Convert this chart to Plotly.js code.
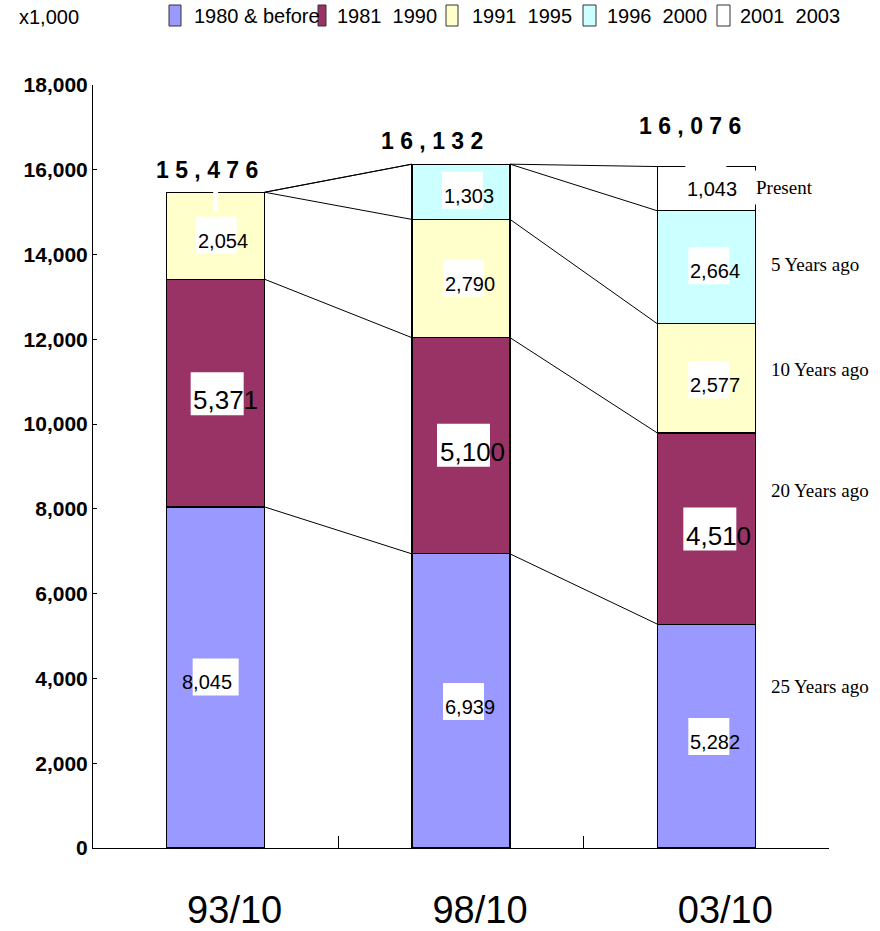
<!DOCTYPE html>
<html><head><meta charset="utf-8">
<script src="https://cdn.plot.ly/plotly-3.0.1.min.js"></script>
<style>html,body{margin:0;padding:0;background:#fff}</style>
</head><body><div id="chart" style="width:880px;height:931px"></div>
<script>
// ---------- data ----------
const categories = ['93/10', '98/10', '03/10'];
const seriesNames = ['1980 & before', '1981\u00a0 1990', '1991\u00a0 1995', '1996\u00a0 2000', '2001\u00a0 2003'];
const v1980 = [8045, 6939, 5282];
const v1981 = [5371, 5100, 4510];
const v1991 = [2054, 2790, 2577];
const v1996 = [null, 1303, 2664];
const v2001 = [null, null, 1043];
const totals = [15476, 16132, 16076];
const ageLabels = ['Present', '5 Years ago', '10 Years ago', '20 Years ago', '25 Years ago'];
const unitLabel = 'x1,000';
const yMax = 18000, yStep = 2000;

// ---------- styles / positions ----------
const seriesColors = ['#9999FF', '#993366', '#FFFFCC', '#CCFFFF', '#FFFFFF'];
const bigLabelSeries = [false, true, false, false, false];
const W = 880, H = 931, M = {l: 93, r: 51, t: 85, b: 83};
const PW = W - M.l - M.r, PH = H - M.t - M.b;
const px2x = px => (px - M.l) / PW;
const px2y = py => (H - M.b - py) / PH;
const barWidth = 0.4;
const SANS = 'Liberation Sans, Arial, sans-serif';
// label pixel offsets [dx, dyDown] per series x category
const labelOffsets = [
  [[-9, 5], [9, 6], [9, 6]],
  [[10, 7], [11, 6], [12, 7]],
  [[7, 5], [9, 5], [9, 7]],
  [[0, 0], [8, 4], [9, 4]],
  [[0, 0], [0, 0], [6, 0]]
];
const totalOffsets = [[-9, 22], [-29, 23], [-16, 41]];
const legendSquares = [[169, 181], [318, 326], [446, 458], [583, 596], [717, 730]];
const legendTextX = [192, 335, 470, 605, 738];
const agePos = [[749, 187], [769, 264], [769, 369], [769, 490], [769, 686]];

const series = [v1980, v1981, v1991, v1996, v2001];
const fmt = v => v.toLocaleString('en-US');

const traces = series.map((vals, s) => ({
  type: 'bar', x: categories, y: vals, name: seriesNames[s], width: barWidth,
  marker: {color: seriesColors[s], line: {color: '#000', width: 1.2}},
  showlegend: false, hoverinfo: 'skip'
}));

// cumulative levels
const cum = categories.map((c, i) => {
  let acc = 0; return series.map(vals => (acc += (vals[i] || 0)));
});

const shapes = [];
const annotations = [];

// connecting lines between bars
for (let i = 0; i < categories.length - 1; i++) {
  for (let k = 0; k < series.length; k++) {
    shapes.push({type: 'line', xref: 'x', yref: 'y', layer: 'above',
      x0: i + barWidth / 2, x1: i + 1 - barWidth / 2, y0: cum[i][k], y1: cum[i + 1][k],
      line: {color: '#000', width: 1}});
  }
}

// segment labels with white boxes
series.forEach((vals, s) => {
  vals.forEach((v, i) => {
    if (v == null) return;
    const mid = (s === 0 ? 0 : cum[i][s - 1]) + v / 2;
    const [dx, dy] = labelOffsets[s][i];
    const big = bigLabelSeries[s];
    let bx = big ? [-35, 18] : [-27, 14];
    if (s === 0 && i === 0) bx = [-14, 32];
    const by = big ? [-28, 15] : [-24, 13];
    shapes.push({type: 'rect', xref: 'x', yref: 'y', layer: 'above',
      xsizemode: 'pixel', ysizemode: 'pixel', xanchor: i, yanchor: mid,
      x0: dx + bx[0], x1: dx + bx[1], y0: -(dy + by[1]), y1: -(dy + by[0]),
      fillcolor: '#fff', line: {width: 0}});
    annotations.push({x: i, y: mid, xref: 'x', yref: 'y', text: fmt(v), showarrow: false,
      xshift: dx, yshift: -dy,
      font: {family: SANS, size: big ? 26 : 20, color: '#000'}});
  });
});

// white notch at top of first bar
shapes.push({type: 'line', xref: 'x', yref: 'y', layer: 'above', xsizemode: 'pixel', ysizemode: 'pixel',
  xanchor: 0, yanchor: cum[0][series.length - 1], x0: 0, x1: 0, y0: -19, y1: 2,
  line: {color: '#fff', width: 5}});

// totals
totals.forEach((t, i) => {
  annotations.push({x: i, y: t, xref: 'x', yref: 'y', showarrow: false,
    text: fmt(t).split('').join(' '), xshift: totalOffsets[i][0], yshift: totalOffsets[i][1],
    font: {family: SANS, size: 23, weight: 'bold', color: '#000'}});
});

// right-side age labels
ageLabels.forEach((t, j) => {
  annotations.push({xref: 'paper', yref: 'paper', x: px2x(agePos[j][0]), y: px2y(agePos[j][1]),
    xanchor: 'left', yanchor: 'middle', text: t, showarrow: false,
    bgcolor: j === 0 ? '#fff' : 'rgba(0,0,0,0)', borderpad: j === 0 ? 6 : 1,
    font: {family: 'Liberation Serif, Times New Roman, serif', size: 19, color: '#000'}});
});

// manual legend
seriesNames.forEach((n, s) => {
  shapes.push({type: 'rect', xref: 'paper', yref: 'paper', layer: 'above',
    x0: px2x(legendSquares[s][0]), x1: px2x(legendSquares[s][1]), y0: px2y(26), y1: px2y(5),
    fillcolor: seriesColors[s], line: {color: '#333', width: 1}});
  annotations.push({xref: 'paper', yref: 'paper', x: px2x(legendTextX[s]), y: px2y(16),
    xanchor: 'left', yanchor: 'middle', text: n, showarrow: false,
    font: {family: SANS, size: 20, color: '#000'}});
});

annotations.push({xref: 'paper', yref: 'paper', x: px2x(17), y: px2y(17), xanchor: 'left', yanchor: 'middle',
  text: unitLabel, showarrow: false,
  font: {family: SANS, size: 20, color: '#000'}});

const layout = {
  width: W, height: H, margin: M, barmode: 'stack', bargap: 0.6,
  paper_bgcolor: '#fff', plot_bgcolor: '#fff', showlegend: false,
  xaxis: {type: 'category', range: [-0.5, categories.length - 0.5], showline: true, linecolor: '#000', linewidth: 1,
    ticks: 'inside', tickson: 'boundaries', ticklen: 12, tickcolor: '#000', showgrid: false, zeroline: false,
    ticklabelshift: 19, ticklabelstandoff: 28,
    tickfont: {family: SANS, size: 38, color: '#000'}},
  yaxis: {range: [0, yMax], dtick: yStep, tickformat: ',d', showline: true, linecolor: '#000', linewidth: 1,
    ticks: 'inside', ticklen: 4, tickcolor: '#000', showgrid: false, zeroline: false,
    tickfont: {family: SANS, size: 21, weight: 'bold', color: '#000'}},
  shapes, annotations
};

Plotly.newPlot('chart', traces, layout, {staticPlot: true, displayModeBar: false});
</script></body></html>
